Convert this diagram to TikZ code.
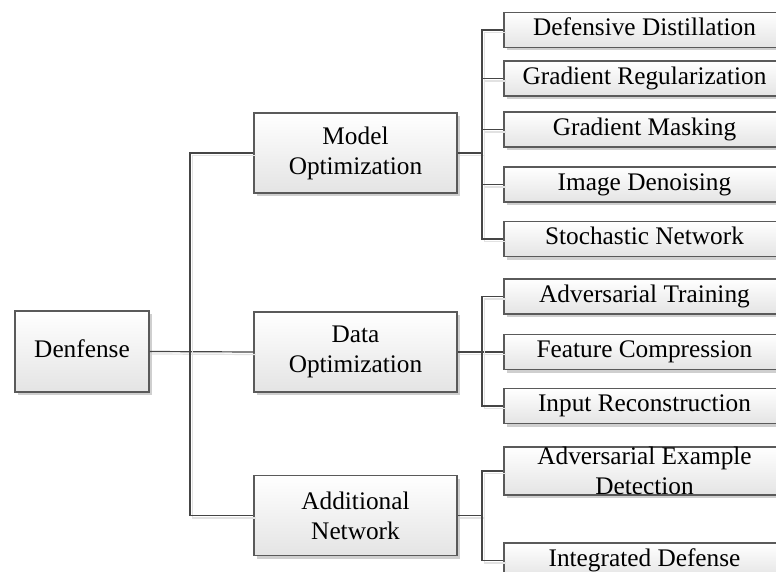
\documentclass[tikz,border=0pt]{standalone}
\usepackage{fontspec}
\setmainfont{Liberation Serif}
\usetikzlibrary{shadows}
\definecolor{boxline}{HTML}{5A5A5A}
\definecolor{boxbot}{HTML}{E4E4E4}
\definecolor{shadowc}{HTML}{CFCFCF}
\definecolor{linec}{HTML}{454545}
\definecolor{lineshadow}{HTML}{E2E2E2}
\begin{document}
\begin{tikzpicture}[x=1pt,y=-1pt,
  txt/.style={font=\fontsize{25.3}{30}\selectfont},
  box/.style={txt, draw=boxline, line width=1.2pt, top color=white, bottom color=boxbot, inner sep=0pt,
    drop shadow={shadow xshift=3pt, shadow yshift=-3pt, fill=shadowc, opacity=1}},
  big/.style={box, minimum width=203pt, minimum height=80pt, align=center},
  leaf/.style={box, minimum width=281pt, minimum height=35pt, text height=17pt, text depth=5.5pt},
  conn/.style={draw=linec, line width=1.2pt,
    preaction={draw=lineshadow, line width=1.2pt, transform canvas={shift={(2.5pt,-2.5pt)}}}}
]
\fill[white] (0,0) rectangle (776,572);
\useasboundingbox (0,0) rectangle (776,572);

% level 0
\node[box, minimum width=134pt, minimum height=81pt, text height=17pt, text depth=5.5pt] (root) at (82,351.5) {Denfense};
% level 1
\node[big] (mo) at (355.5,153) {Model\\Optimization};
\node[big] (do) at (355.5,352) {Data\\Optimization};
\node[big] (an) at (355.5,515.5) {Additional\\Network};
% level 2
\node[leaf] (dd) at (644.5,30) {Defensive Distillation};
\node[leaf] (gr) at (644.5,78.5) {Gradient Regularization};
\node[leaf] (gm) at (644.5,129.5) {Gradient Masking};
\node[leaf] (id1) at (644.5,184.5) {Image Denoising};
\node[leaf] (sn) at (644.5,239) {Stochastic Network};
\node[leaf] (at) at (644.5,296.5) {Adversarial Training};
\node[leaf] (fc) at (644.5,352) {Feature Compression};
\node[leaf] (ir) at (644.5,406) {Input Reconstruction};
\node[leaf, minimum height=48pt, label={[name=aedt, txt, align=center]center:Adversarial Example\\Detection}] (aed) at (644.5,471) {};
\node[leaf] (idf) at (644.5,560.5) {Integrated Defense};

% connectors
\coordinate (t) at (190,352);
\coordinate (b1) at (482,153);
\coordinate (b2) at (482,352);
\coordinate (b3) at (482,515.5);

\draw[conn] (root.east) -- (do.west);
\draw[conn] (mo.west) -| (t) |- (an.west);

\draw[conn] (mo.east) -- (b1);
\draw[conn] (dd.west) -| (b1) |- (sn.west);
\draw[conn] (b1 |- gr.west) -- (gr.west);
\draw[conn] (b1 |- gm.west) -- (gm.west);
\draw[conn] (b1 |- id1.west) -- (id1.west);

\draw[conn] (do.east) -- (fc.west);
\draw[conn] (at.west) -| (b2) |- (ir.west);

\draw[conn] (an.east) -- (b3);
\draw[conn] (aed.west) -| (b3) |- (idf.west);
\end{tikzpicture}
\end{document}
